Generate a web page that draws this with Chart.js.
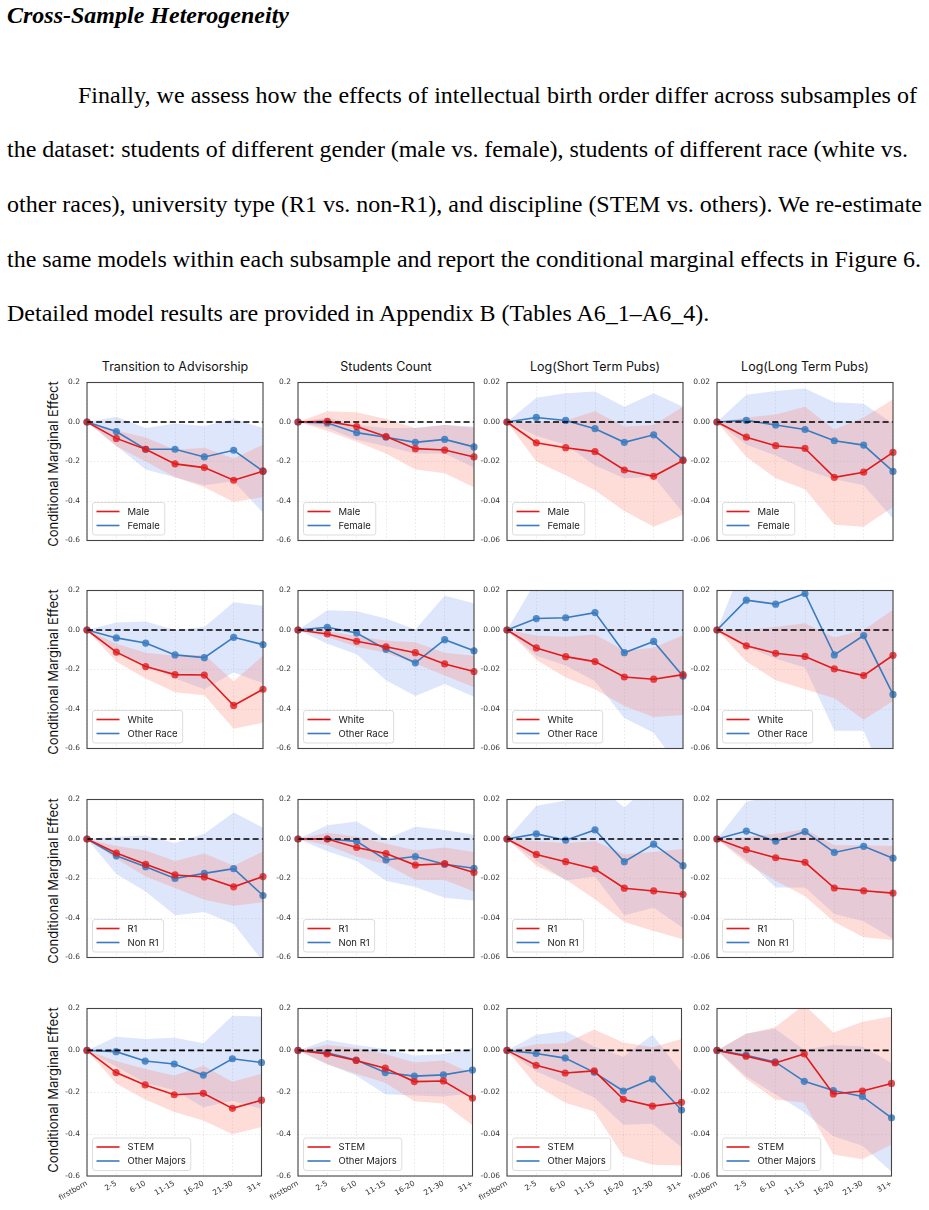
<!DOCTYPE html>
<html>
<head>
<meta charset="utf-8">
<script src="https://cdn.jsdelivr.net/npm/chart.js@4.4.0/dist/chart.umd.min.js"></script>
<style>
  body { margin: 0; background: #fff; width: 929px; height: 1210px; position: relative; overflow: hidden;
         font-family: "Liberation Serif", "Times New Roman", serif; color: #000; }
  .ln { position: absolute; white-space: pre; font-size: 24px; line-height: 30px; height: 30px; }
  .head { font-weight: bold; font-style: italic; }
  .coltitle { position: absolute; font-family: Inter, "DejaVu Sans", sans-serif; font-size: 12.5px; line-height: 16px;
              color: #111; white-space: nowrap; transform: translateX(-50%); }
  .ylab { position: absolute; font-family: Inter, "DejaVu Sans", sans-serif; font-size: 13px; line-height: 16px;
          color: #111; white-space: nowrap; transform: translate(-50%, -50%) rotate(-90deg); }
  canvas { position: absolute; }
</style>
</head>
<body>

<div class="ln head" style="left:7px;top:0px">Cross-Sample Heterogeneity</div>
<span class="ln jl" data-x="78" data-w="839" style="top:79.5px">Finally, we assess how the effects of intellectual birth order differ across subsamples of</span>
<span class="ln jl" data-x="7" data-w="901" style="top:134.2px">the dataset: students of different gender (male vs. female), students of different race (white vs.</span>
<span class="ln jl" data-x="7" data-w="915" style="top:188.9px">other races), university type (R1 vs. non-R1), and discipline (STEM vs. others). We re-estimate</span>
<span class="ln jl" data-x="7" data-w="914" style="top:243.6px">the same models within each subsample and report the conditional marginal effects in Figure 6.</span>
<span class="ln" style="left:7px;top:298.3px">Detailed model results are provided in Appendix B (Tables A6_1–A6_4).</span>

<script>
// birth-order categories on the x axis
const categories = ['firstborn', '2-5', '6-10', '11-15', '16-20', '21-30', '31+'];
const outcomes = ['Transition to Advisorship', 'Students Count', 'Log(Short Term Pubs)', 'Log(Long Term Pubs)'];
const yMin = [-0.6, -0.6, -0.06, -0.06];
const yMax = [0.2, 0.2, 0.02, 0.02];
const yStep = [0.2, 0.2, 0.02, 0.02];
const yDecimals = [1, 1, 2, 2];
const groupPairs = [['Male', 'Female'], ['White', 'Other Race'], ['R1', 'Non R1'], ['STEM', 'Other Majors']];

// each array: one row per outcome (4), one value per category (7)
const maleEst = [
  [0, -0.083, -0.138, -0.212, -0.231, -0.295, -0.249],
  [0, 0.003, -0.023, -0.074, -0.135, -0.142, -0.177],
  [0, -0.0105, -0.013, -0.015, -0.0243, -0.0275, -0.0195],
  [0, -0.0077, -0.012, -0.0134, -0.028, -0.0254, -0.0154]
];
const maleLow = [
  [0, -0.123, -0.2, -0.28, -0.33, -0.405, -0.38],
  [0, -0.046, -0.1, -0.16, -0.24, -0.26, -0.33],
  [0, -0.02, -0.027, -0.0346, -0.045, -0.053, -0.047],
  [0, -0.0177, -0.0285, -0.034, -0.052, -0.053, -0.043]
];
const maleHigh = [
  [0, -0.043, -0.078, -0.14, -0.13, -0.185, -0.115],
  [0, 0.054, 0.05, 0.015, -0.03, -0.015, -0.03],
  [0, -0.0008, 0.0008, 0.0054, -0.0023, -0.0015, 0.0077],
  [0, 0.0023, 0.0038, 0.0077, -0.0038, 0.0023, 0.0115]
];
const femaleEst = [
  [0, -0.048, -0.138, -0.138, -0.177, -0.143, -0.249],
  [0, -0.005, -0.054, -0.077, -0.103, -0.088, -0.126],
  [0, 0.0023, 0.0008, -0.0034, -0.0103, -0.0065, -0.0192],
  [0, 0.0008, -0.0015, -0.0038, -0.0095, -0.0117, -0.025]
];
const femaleLow = [
  [0, -0.12, -0.24, -0.28, -0.32, -0.3, -0.46],
  [0, -0.03, -0.09, -0.123, -0.16, -0.16, -0.23],
  [0, -0.007, -0.0115, -0.022, -0.0285, -0.0277, -0.046],
  [0, -0.0115, -0.017, -0.024, -0.029, -0.032, -0.049]
];
const femaleHigh = [
  [0, 0.026, -0.03, -0.008, -0.02, 0.015, -0.03],
  [0, 0.023, -0.015, -0.03, -0.03, -0.015, -0.023],
  [0, 0.0123, 0.0146, 0.0154, 0.0077, 0.0146, 0.0077],
  [0, 0.0138, 0.0157, 0.017, 0.01, 0.0092, -0.0008]
];
const whiteEst = [
  [0, -0.112, -0.185, -0.226, -0.228, -0.382, -0.3],
  [0, -0.02, -0.057, -0.085, -0.115, -0.172, -0.21],
  [0, -0.0091, -0.0135, -0.016, -0.0238, -0.0249, -0.0226],
  [0, -0.008, -0.0118, -0.0134, -0.0197, -0.0231, -0.0128]
];
const whiteLow = [
  [0, -0.16, -0.246, -0.315, -0.33, -0.5, -0.47],
  [0, -0.035, -0.085, -0.115, -0.17, -0.23, -0.29],
  [0, -0.015, -0.024, -0.03, -0.0385, -0.044, -0.043],
  [0, -0.016, -0.0254, -0.03, -0.0346, -0.0454, -0.036]
];
const whiteHigh = [
  [0, -0.07, -0.115, -0.13, -0.125, -0.26, -0.13],
  [0, -0.005, -0.03, -0.054, -0.062, -0.115, -0.13],
  [0, -0.0028, -0.0034, -0.0023, -0.0105, -0.009, -0.0026],
  [0, 0, 0.0015, 0.0034, -0.0038, 0, 0.0103]
];
const otherRaceEst = [
  [0, -0.04, -0.066, -0.126, -0.14, -0.037, -0.074],
  [0, 0.014, -0.015, -0.098, -0.166, -0.049, -0.105],
  [0, 0.0058, 0.0062, 0.0088, -0.0115, -0.0058, -0.0234],
  [0, 0.0151, 0.0131, 0.0185, -0.0126, -0.0028, -0.0326]
];
const otherRaceLow = [
  [0, -0.12, -0.175, -0.246, -0.3, -0.215, -0.27],
  [0, -0.07, -0.123, -0.254, -0.334, -0.274, -0.338],
  [0, -0.013, -0.018, -0.026, -0.0446, -0.052, -0.072],
  [0, -0.0085, -0.0146, -0.019, -0.051, -0.051, -0.085]
];
const otherRaceHigh = [
  [0, 0.038, 0.043, 0, 0.015, 0.14, 0.123],
  [0, 0.1, 0.095, 0.058, 0.003, 0.174, 0.135],
  [0, 0.025, 0.03, 0.044, 0.022, 0.04, 0.025],
  [0, 0.037, 0.041, 0.056, 0.026, 0.045, 0.022]
];
const r1Est = [
  [0, -0.071, -0.128, -0.182, -0.192, -0.242, -0.19],
  [0, 0, -0.043, -0.074, -0.132, -0.125, -0.17],
  [0, -0.0078, -0.0115, -0.0152, -0.0249, -0.0263, -0.028],
  [0, -0.0054, -0.0095, -0.0118, -0.0248, -0.0262, -0.0274]
];
const r1Low = [
  [0, -0.1, -0.19, -0.248, -0.308, -0.338, -0.32],
  [0, -0.032, -0.089, -0.128, -0.208, -0.208, -0.266],
  [0, -0.0135, -0.0205, -0.0305, -0.042, -0.0466, -0.0508],
  [0, -0.012, -0.0212, -0.029, -0.042, -0.0497, -0.0512]
];
const r1High = [
  [0, -0.035, -0.058, -0.112, -0.074, -0.135, -0.063],
  [0, 0.032, 0.011, -0.023, -0.058, -0.043, -0.066],
  [0, -0.0012, -0.002, -0.0012, -0.0077, -0.0066, -0.005],
  [0, 0.001, 0.0026, 0.0049, -0.0032, -0.0032, -0.0035]
];
const nonR1Est = [
  [0, -0.085, -0.14, -0.2, -0.174, -0.15, -0.286],
  [0, 0, -0.012, -0.106, -0.089, -0.128, -0.148],
  [0, 0.0026, -0.0006, 0.0046, -0.0115, -0.0026, -0.0135],
  [0, 0.004, -0.0011, 0.0037, -0.0068, -0.0037, -0.0097]
];
const nonR1Low = [
  [0, -0.177, -0.266, -0.386, -0.37, -0.43, -0.62],
  [0, -0.062, -0.112, -0.212, -0.243, -0.298, -0.312],
  [0, -0.011, -0.021, -0.019, -0.0386, -0.0348, -0.045],
  [0, -0.0105, -0.0245, -0.0245, -0.038, -0.0417, -0.0505]
];
const nonR1High = [
  [0, 0.011, 0.018, -0.02, 0.026, 0.134, 0.057],
  [0, 0.069, 0.088, 0, 0.062, 0.045, 0.022],
  [0, 0.0168, 0.0195, 0.028, 0.016, 0.029, 0.019],
  [0, 0.0188, 0.022, 0.032, 0.024, 0.034, 0.031]
];
const stemEst = [
  [0, -0.106, -0.165, -0.212, -0.205, -0.277, -0.238],
  [0, -0.017, -0.048, -0.085, -0.149, -0.146, -0.228],
  [0, -0.0071, -0.0108, -0.0098, -0.0234, -0.0266, -0.0248],
  [0, -0.0028, -0.006, -0.0017, -0.0208, -0.0194, -0.0158]
];
const stemLow = [
  [0, -0.158, -0.235, -0.294, -0.335, -0.4, -0.366],
  [0, -0.066, -0.112, -0.155, -0.243, -0.254, -0.358],
  [0, -0.0166, -0.025, -0.0292, -0.0505, -0.0546, -0.055],
  [0, -0.0135, -0.0235, -0.025, -0.0497, -0.052, -0.045]
];
const stemHigh = [
  [0, -0.051, -0.089, -0.12, -0.074, -0.15, -0.112],
  [0, 0.026, 0.011, -0.017, -0.058, -0.048, -0.112],
  [0, 0.0029, 0.0034, 0.01, 0.0038, 0.0015, 0.0054],
  [0, 0.008, 0.011, 0.0218, 0.0085, 0.0137, 0.0162]
];
const otherMajorsEst = [
  [0, -0.006, -0.051, -0.065, -0.118, -0.04, -0.058],
  [0, -0.011, -0.046, -0.106, -0.123, -0.117, -0.094],
  [0, -0.0015, -0.0037, -0.0105, -0.0194, -0.0137, -0.0285],
  [0, -0.0023, -0.0055, -0.0148, -0.0192, -0.022, -0.0322]
];
const otherMajorsLow = [
  [0, -0.077, -0.156, -0.19, -0.272, -0.24, -0.28],
  [0, -0.065, -0.12, -0.21, -0.215, -0.22, -0.205],
  [0, -0.01, -0.016, -0.0225, -0.0355, -0.035, -0.0463],
  [0, -0.0123, -0.021, -0.0295, -0.041, -0.0455, -0.058]
];
const otherMajorsHigh = [
  [0, 0.065, 0.054, 0.06, 0.034, 0.165, 0.162],
  [0, 0.049, 0.026, 0.006, -0.025, -0.017, 0.011],
  [0, 0.0075, 0.0092, 0.0018, -0.0031, 0.0075, -0.0105],
  [0, 0.008, 0.0103, 0.0003, 0.0026, 0.0018, -0.006]
];

const rowSeries = [
  [[maleEst, maleLow, maleHigh], [femaleEst, femaleLow, femaleHigh]],
  [[whiteEst, whiteLow, whiteHigh], [otherRaceEst, otherRaceLow, otherRaceHigh]],
  [[r1Est, r1Low, r1High], [nonR1Est, nonR1Low, nonR1High]],
  [[stemEst, stemLow, stemHigh], [otherMajorsEst, otherMajorsLow, otherMajorsHigh]]
];

// page layout of the plot areas
const colLeft = [87, 298, 507, 717];
const rowTop = [377, 585, 794, 1003];
const plotW = 176, plotH = 173;
const AXW = 40, PADT = 6, PADR = 6, XAXH = 30;

const RED = '#e31a1c', RED_PT = 'rgba(227,26,28,0.78)', RED_BAND = 'rgba(250,128,114,0.27)';
const BLUE = '#3a7bbf', BLUE_PT = 'rgba(58,123,191,0.85)', BLUE_BAND = 'rgba(100,140,230,0.22)';
const GRID = 'rgba(0,0,0,0.11)';

// stretch the paragraph lines like the justified original
document.querySelectorAll('.jl').forEach(function (el) {
  el.style.left = el.dataset.x + 'px';
  var nat = el.getBoundingClientRect().width;
  var spaces = (el.textContent.match(/ /g) || []).length;
  el.style.wordSpacing = ((+el.dataset.w - nat) / spaces) + 'px';
});

var framePlugin = {
  id: 'frame',
  afterDraw: function (chart) {
    var a = chart.chartArea, ctx = chart.ctx;
    ctx.save();
    ctx.strokeStyle = '#444';
    ctx.lineWidth = 1.1;
    ctx.strokeRect(a.left, a.top, a.right - a.left, a.bottom - a.top);
    ctx.restore();
  }
};

var zeroLinePlugin = {
  id: 'zeroLine',
  afterDatasetsDraw: function (chart) {
    var a = chart.chartArea, ctx = chart.ctx;
    var y = chart.scales.y.getPixelForValue(0);
    ctx.save();
    ctx.strokeStyle = '#000';
    ctx.lineWidth = 1.7;
    ctx.setLineDash([6, 3.2]);
    ctx.beginPath();
    ctx.moveTo(a.left, y);
    ctx.lineTo(a.right, y);
    ctx.stroke();
    ctx.restore();
  }
};

var insetLegendPlugin = {
  id: 'insetLegend',
  afterDraw: function (chart) {
    var a = chart.chartArea, ctx = chart.ctx;
    var items = chart.data.datasets.filter(function (d) { return d.label; });
    ctx.save();
    ctx.font = '9.5px Inter, "DejaVu Sans", sans-serif';
    var tw = Math.max.apply(null, items.map(function (d) { return ctx.measureText(d.label).width; }));
    var w = 35 + tw + 5, h = 32.5;
    var x = a.left + 5.5, y = a.bottom - 5.5 - h;
    ctx.beginPath();
    ctx.roundRect(x, y, w, h, 2.5);
    ctx.fillStyle = 'rgba(255,255,255,0.8)';
    ctx.fill();
    ctx.strokeStyle = '#d4d4d4';
    ctx.lineWidth = 0.8;
    ctx.stroke();
    items.forEach(function (d, i) {
      var cy = y + 9 + i * 14;
      ctx.strokeStyle = d.borderColor;
      ctx.lineWidth = 1.6;
      ctx.beginPath();
      ctx.moveTo(x + 4, cy);
      ctx.lineTo(x + 27, cy);
      ctx.stroke();
      ctx.fillStyle = '#222';
      ctx.textBaseline = 'middle';
      ctx.fillText(d.label, x + 35, cy + 0.5);
    });
    ctx.restore();
  }
};

function addText(cls, text, left, top) {
  var d = document.createElement('div');
  d.className = cls;
  d.textContent = text;
  d.style.left = left + 'px';
  d.style.top = top + 'px';
  document.body.appendChild(d);
}

outcomes.forEach(function (name, c) {
  addText('coltitle', name, colLeft[c] + plotW / 2, 358.5);
});
rowTop.forEach(function (t) {
  addText('ylab', 'Conditional Marginal Effect', 53.3, t + plotH / 2);
});

rowSeries.forEach(function (pair, r) {
  var bottom = r === rowSeries.length - 1;
  outcomes.forEach(function (name, c) {
    var cv = document.createElement('canvas');
    var w = AXW + plotW + PADR;
    var h = PADT + plotH + (bottom ? XAXH : 0) + 2;
    cv.width = w;
    cv.height = h;
    cv.style.left = (colLeft[c] - AXW) + 'px';
    cv.style.top = (rowTop[r] - PADT) + 'px';
    cv.style.width = w + 'px';
    cv.style.height = h + 'px';
    document.body.appendChild(cv);

    var red = pair[0], blue = pair[1];
    new Chart(cv, {
      type: 'line',
      data: {
        labels: categories,
        datasets: [
          { label: groupPairs[r][0], data: red[0][c], borderColor: RED, backgroundColor: RED_PT,
            borderWidth: 1.6, pointRadius: 3.6, pointBorderWidth: 0, pointBackgroundColor: RED_PT, fill: false, tension: 0 },
          { label: groupPairs[r][1], data: blue[0][c], borderColor: BLUE, backgroundColor: BLUE_PT,
            borderWidth: 1.6, pointRadius: 3.6, pointBorderWidth: 0, pointBackgroundColor: BLUE_PT, fill: false, tension: 0 },
          { data: red[2][c], borderWidth: 0, pointRadius: 0, fill: '+1', backgroundColor: RED_BAND },
          { data: red[1][c], borderWidth: 0, pointRadius: 0, fill: false },
          { data: blue[2][c], borderWidth: 0, pointRadius: 0, fill: '+1', backgroundColor: BLUE_BAND },
          { data: blue[1][c], borderWidth: 0, pointRadius: 0, fill: false }
        ]
      },
      options: {
        responsive: false,
        animation: false,
        events: [],
        layout: { padding: { top: PADT, right: PADR, bottom: 2, left: 0 } },
        plugins: { legend: { display: false }, tooltip: { enabled: false } },
        scales: {
          x: {
            type: 'category',
            offset: false,
            grid: { color: GRID, drawTicks: false, lineWidth: 0.8 },
            border: { display: false, dash: [1.5, 2] },
            ticks: {
              display: bottom, autoSkip: false, maxRotation: 30, minRotation: 30, padding: 3,
              color: '#333', font: { family: 'DejaVu Sans', size: 7.5 }
            },
            afterFit: function (s) { s.height = bottom ? XAXH : 0; }
          },
          y: {
            min: yMin[c],
            max: yMax[c],
            grid: { color: GRID, drawTicks: false, lineWidth: 0.8 },
            border: { display: false, dash: [1.5, 2] },
            ticks: {
              stepSize: yStep[c], padding: 7, color: '#333', font: { family: 'DejaVu Sans', size: 7.5 },
              callback: function (v) {
                var n = Math.abs(v) < 1e-9 ? 0 : v;
                return n.toFixed(yDecimals[c]);
              }
            },
            afterFit: function (s) { s.width = AXW; }
          }
        }
      },
      plugins: [framePlugin, zeroLinePlugin, insetLegendPlugin]
    });
  });
});
</script>
</body>
</html>
